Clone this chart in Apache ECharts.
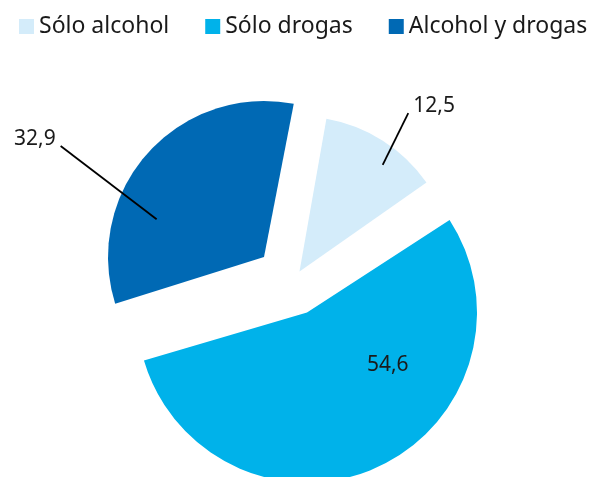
<!DOCTYPE html>
<html>
<head>
<meta charset="utf-8">
<script src="https://cdn.jsdelivr.net/npm/echarts@6/dist/echarts.min.js"></script>
<style>
  html, body { margin: 0; padding: 0; background: #ffffff; }
  #chart { width: 590px; height: 477px; }
</style>
</head>
<body>
<div id="chart"></div>
<script>
// Categories, shares (%) and colours
const categories = ['Sólo alcohol', 'Sólo drogas', 'Alcohol y drogas'];
const values = [12.5, 54.6, 32.9];
const colors = ['#D4ECFA', '#00B2EA', '#0069B4'];

const FONT = 'Noto Sans';
const TEXT_COLOR = '#1a1a1a';
const fmt = v => v.toFixed(1).replace('.', ',');

// Each slice is drawn by its own pie so that it can be pulled away from the others
const slices = [
  { center: [299.5, 271.5], radius: 155, startAngle: 80 },
  { center: [307, 312.5], radius: 170, startAngle: 78 },
  { center: [264, 257], radius: 156, startAngle: 79 }
];

// Invisible pies that only carry the leader lines of the outside labels
const leaders = [
  { index: 0, center: [338.4, 254.6], radius: 100, startAngle: 86.2, length: 57.7 },
  { index: 2, center: [236.1, 280], radius: 100, startAngle: 83.4, length: 120.8 }
];

const labelText = {
  color: TEXT_COLOR,
  fontFamily: FONT,
  fontSize: 21
};

function pieData(k, withLabel) {
  return categories.map((name, i) => ({
    name: name,
    value: values[i],
    itemStyle: { color: i === k && !withLabel ? colors[i] : 'rgba(0,0,0,0)' },
    label: { show: false },
    labelLine: { show: false }
  }));
}

const series = [];

slices.forEach((s, k) => {
  const data = pieData(k, false);
  const isInside = k === 1;
  if (isInside) {
    data[k].label = Object.assign({ show: true, position: 'inside', formatter: p => fmt(p.value) }, labelText);
  }
  series.push({
    type: 'pie',
    center: s.center,
    radius: s.radius,
    startAngle: s.startAngle,
    clockwise: true,
    avoidLabelOverlap: false,
    silent: true,
    animation: false,
    itemStyle: { borderWidth: 0 },
    emphasis: { disabled: true },
    labelLayout: isInside ? { dx: 44, dy: -27 } : undefined,
    data: data
  });
});

leaders.forEach(l => {
  const data = pieData(l.index, true);
  data[l.index].label = Object.assign({
    show: true,
    position: 'outside',
    distanceToLabelLine: 5,
    formatter: p => fmt(p.value)
  }, labelText);
  data[l.index].labelLine = {
    show: true,
    length: l.length,
    length2: 0,
    smooth: false,
    lineStyle: { color: '#000000', width: 1.8 }
  };
  series.push({
    type: 'pie',
    center: l.center,
    radius: l.radius,
    startAngle: l.startAngle,
    clockwise: true,
    avoidLabelOverlap: false,
    silent: true,
    animation: false,
    z: 5,
    itemStyle: { borderWidth: 0 },
    emphasis: { disabled: true },
    labelLayout: { dy: -7 },
    data: data
  });
});

const chart = echarts.init(document.getElementById('chart'), null, { renderer: 'canvas' });
chart.setOption({
  backgroundColor: '#ffffff',
  animation: false,
  legend: {
    left: 19,
    top: 15,
    padding: 0,
    icon: 'rect',
    itemWidth: 15,
    itemHeight: 15,
    itemGap: 36,
    selectedMode: false,
    textStyle: { color: TEXT_COLOR, fontFamily: FONT, fontSize: 23 },
    data: categories.map((name, i) => ({ name: name, itemStyle: { color: colors[i] } }))
  },
  series: series
});
</script>
</body>
</html>
